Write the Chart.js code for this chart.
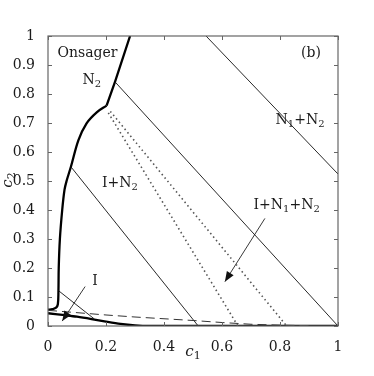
<!DOCTYPE html>
<html>
<head>
<meta charset="utf-8">
<script src="https://cdn.jsdelivr.net/npm/chart.js@4"></script>
<style>html,body{margin:0;padding:0;background:#fff}</style>
</head>
<body>
<canvas id="myChart" width="374" height="376"></canvas>
<script>
// tick values and labels
const xTicks = [0, 0.2, 0.4, 0.6, 0.8, 1];
const xTickLabels = ['0', '0.2', '0.4', '0.6', '0.8', '1'];
const yTicks = [0, 0.1, 0.2, 0.3, 0.4, 0.5, 0.6, 0.7, 0.8, 0.9, 1];
const yTickLabels = ['0', '0.1', '0.2', '0.3', '0.4', '0.5', '0.6', '0.7', '0.8', '0.9', '1'];

// thick phase boundaries (curved part, then straight part above the kink)
const bndLeftX = [0, 0.015, 0.028, 0.034, 0.036, 0.037, 0.041, 0.049, 0.057, 0.064, 0.079, 0.105, 0.133, 0.168, 0.202];
const bndLeftY = [0.056, 0.058, 0.063, 0.075, 0.12, 0.2, 0.3, 0.4, 0.47, 0.5, 0.549, 0.641, 0.699, 0.737, 0.76];
const bndUpX = [0.202, 0.231, 0.283];
const bndUpY = [0.76, 0.842, 1];
const bndLowX = [0, 0.05, 0.1, 0.15, 0.2, 0.25, 0.3, 0.35, 1];
const bndLowY = [0.044, 0.038, 0.032, 0.024, 0.015, 0.007, 0.002, 0, 0];

// dashed line
const dashX = [0, 0.1, 0.2, 0.3, 0.4, 0.5, 0.6, 0.7, 0.8, 0.9];
const dashY = [0.054, 0.046, 0.038, 0.031, 0.025, 0.019, 0.012, 0.006, 0.003, 0.001];

// tie lines (solid thin)
const tieAX = [0.545, 1];     const tieAY = [1, 0.524];
const tieBX = [0.231, 1];     const tieBY = [0.842, 0];
const tieCX = [0.079, 0.518]; const tieCY = [0.549, 0];
const tieDX = [0.036, 0.16];  const tieDY = [0.122, 0.024];

// dotted lines
const dot1X = [0.208, 0.655]; const dot1Y = [0.735, 0];
const dot2X = [0.215, 0.823]; const dot2Y = [0.74, 0];

// arrows
const arrIX = [0.128, 0.049];   const arrIY = [0.136, 0.017];
const arrTX = [0.748, 0.610];   const arrTY = [0.371, 0.153];

// region labels
const labelText = ['Onsager', 'N_2', '(b)', 'N_1+N_2', 'I+N_2', 'I+N_1+N_2', 'I'];
const labelX = [0.136, 0.151, 0.907, 0.869, 0.248, 0.823, 0.162];
const labelY = [0.94, 0.848, 0.941, 0.71, 0.493, 0.417, 0.153];

const FONT = '"DejaVu Serif", serif';

function pts(xs, ys) {
    return xs.map((x, i) => ({ x: x, y: ys[i] }));
}

function line(xs, ys, color, width, dash, tag, tension) {
    return {
        data: pts(xs, ys),
        borderColor: color,
        borderWidth: width,
        borderDash: dash || [],
        pointRadius: 0,
        showLine: true,
        fill: false,
        tension: tension || 0,
        tag: tag
    };
}

function drawRich(ctx, str, x, y, size, italic) {
    // "_n" makes a subscript
    const parts = [];
    let i = 0;
    while (i < str.length) {
        if (str[i] === '_') { parts.push({ t: str[i + 1], sub: true }); i += 2; }
        else { parts.push({ t: str[i], sub: false }); i++; }
    }
    const f = (sub) => (italic && !sub ? 'italic ' : '') + (sub ? Math.round(size * 0.7) : size) + 'px ' + FONT;
    let w = 0;
    parts.forEach(p => { ctx.font = f(p.sub); w += ctx.measureText(p.t).width; });
    let cx = x - w / 2;
    ctx.textBaseline = 'middle';
    ctx.textAlign = 'left';
    parts.forEach(p => {
        ctx.font = f(p.sub);
        ctx.fillText(p.t, cx, p.sub ? y + size * 0.3 : y);
        cx += ctx.measureText(p.t).width;
    });
}

const decorations = {
    id: 'decorations',
    afterDatasetsDraw(chart) {
        const ctx = chart.ctx;
        const xs = chart.scales.x, ys = chart.scales.y;
        const a = chart.chartArea;
        ctx.save();
        // arrow heads
        ctx.fillStyle = '#111';
        chart.data.datasets.forEach(ds => {
            if (ds.tag !== 'arrow') return;
            const p0 = ds.data[0], p1 = ds.data[ds.data.length - 1];
            const x0 = xs.getPixelForValue(p0.x), y0 = ys.getPixelForValue(p0.y);
            const x1 = xs.getPixelForValue(p1.x), y1 = ys.getPixelForValue(p1.y);
            const ang = Math.atan2(y1 - y0, x1 - x0);
            const L = 10, W = 4;
            ctx.beginPath();
            ctx.moveTo(x1, y1);
            ctx.lineTo(x1 - L * Math.cos(ang) + W * Math.sin(ang), y1 - L * Math.sin(ang) - W * Math.cos(ang));
            ctx.lineTo(x1 - L * Math.cos(ang) - W * Math.sin(ang), y1 - L * Math.sin(ang) + W * Math.cos(ang));
            ctx.closePath();
            ctx.fill();
        });
        // frame
        ctx.strokeStyle = '#666';
        ctx.lineWidth = 1.2;
        ctx.strokeRect(a.left, a.top, a.right - a.left, a.bottom - a.top);
        // inward ticks
        ctx.lineWidth = 1;
        ctx.beginPath();
        xTicks.forEach(v => {
            const px = Math.round(xs.getPixelForValue(v)) + 0.5;
            ctx.moveTo(px, a.bottom); ctx.lineTo(px, a.bottom - 4);
            ctx.moveTo(px, a.top); ctx.lineTo(px, a.top + 4);
        });
        yTicks.forEach(v => {
            const py = Math.round(ys.getPixelForValue(v)) + 0.5;
            ctx.moveTo(a.left, py); ctx.lineTo(a.left + 4, py);
            ctx.moveTo(a.right, py); ctx.lineTo(a.right - 4, py);
        });
        ctx.stroke();
        // labels
        ctx.fillStyle = '#1a1a1a';
        labelText.forEach((t, i) => {
            drawRich(ctx, t, xs.getPixelForValue(labelX[i]), ys.getPixelForValue(labelY[i]), 14, false);
        });
        // axis titles
        drawRich(ctx, 'c_1', (a.left + a.right) / 2, 352, 15, true);
        ctx.save();
        ctx.translate(8, (a.top + a.bottom) / 2 - 1);
        ctx.rotate(-Math.PI / 2);
        drawRich(ctx, 'c_2', 0, 0, 15, true);
        ctx.restore();
        ctx.restore();
    }
};

getContext();

function getContext() {
    const datasets = [
        line(dashX, dashY, '#333', 1, [9, 5]),
        line(dot1X, dot1Y, '#555', 1.6, [1.5, 3]),
        line(dot2X, dot2Y, '#555', 1.6, [1.5, 3]),
        line(tieAX, tieAY, '#111', 0.9),
        line(tieBX, tieBY, '#111', 0.9),
        line(tieCX, tieCY, '#111', 0.9),
        line(tieDX, tieDY, '#111', 0.9),
        line(arrIX, arrIY, '#222', 0.9, [], 'arrow'),
        line(arrTX, arrTY, '#222', 0.9, [], 'arrow'),
        line(bndLowX, bndLowY, '#000', 2.3, [], null, 0.3),
        line(bndLeftX, bndLeftY, '#000', 2.3, [], null, 0.35),
        line(bndUpX, bndUpY, '#000', 2.3)
    ];
    generateChart({ datasets: datasets });
}

function generateChart(data) {
    const ctx = document.getElementById('myChart');
    new Chart(ctx, {
        type: 'scatter',
        data: data,
        plugins: [decorations],
        options: {
            responsive: false,
            animation: false,
            devicePixelRatio: 1,
            layout: { padding: { top: 36, right: 36, left: 0, bottom: 0 } },
            scales: {
                x: {
                    type: 'linear',
                    min: 0,
                    max: 1,
                    afterFit: s => { s.height = 50; },
                    afterBuildTicks: s => { s.ticks = xTicks.map(v => ({ value: v })); },
                    grid: { display: false },
                    border: { display: false },
                    ticks: {
                        padding: 5,
                        color: '#1a1a1a',
                        font: { family: FONT, size: 14 },
                        maxRotation: 0,
                        autoSkip: false,
                        callback: (v, i) => xTickLabels[i]
                    }
                },
                y: {
                    type: 'linear',
                    min: 0,
                    max: 1,
                    afterFit: s => { s.width = 48; },
                    afterBuildTicks: s => { s.ticks = yTicks.map(v => ({ value: v })); },
                    grid: { display: false },
                    border: { display: false },
                    ticks: {
                        padding: 5,
                        color: '#1a1a1a',
                        font: { family: FONT, size: 14 },
                        autoSkip: false,
                        callback: (v, i) => yTickLabels[i]
                    }
                }
            },
            plugins: {
                legend: { display: false },
                tooltip: { enabled: false }
            }
        }
    });
}
</script>
</body>
</html>
